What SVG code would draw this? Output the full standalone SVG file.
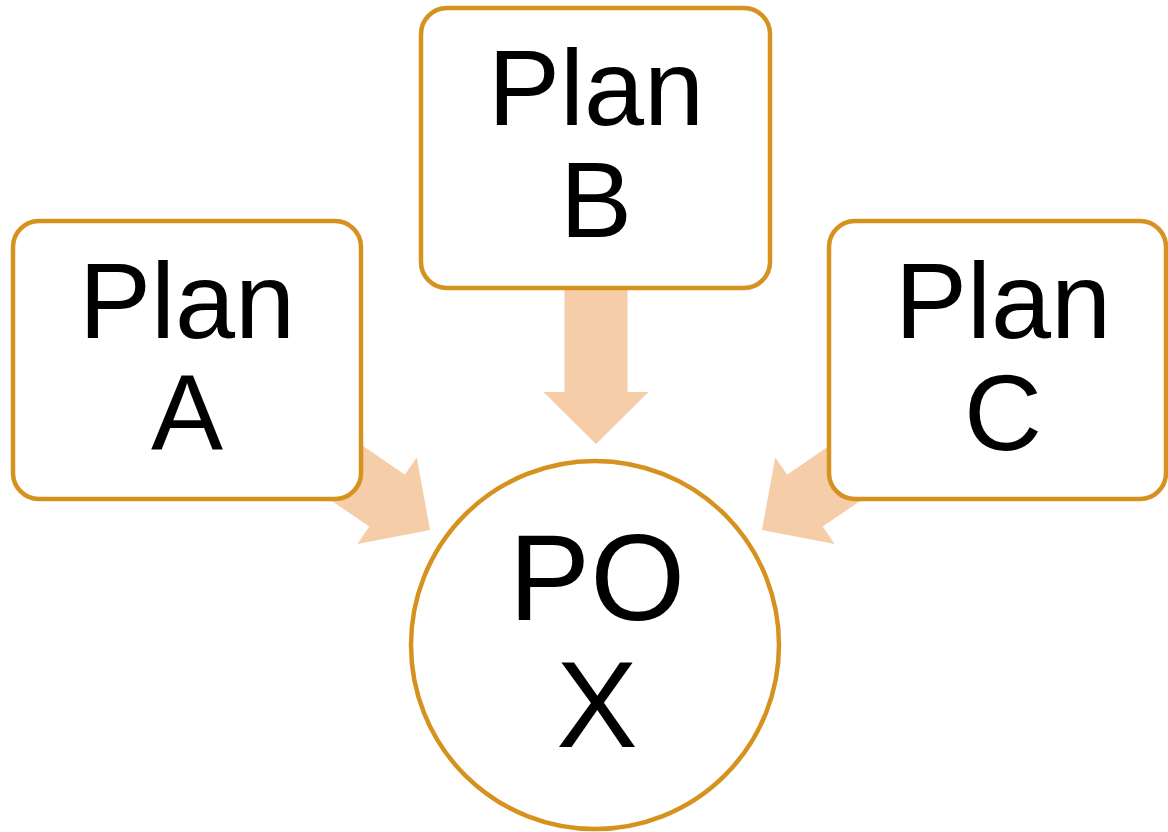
<svg xmlns="http://www.w3.org/2000/svg" width="1168" height="832" viewBox="0 0 1168 832">
<defs>
<style>
.box{fill:#fff;stroke:#D6921E;stroke-width:4.5}
.arr{fill:#F5CDA9}
.t{font-family:"Liberation Sans",Arial,sans-serif;font-size:108px;fill:#000;text-anchor:middle}
.big{font-size:122px}
</style>
<path id="arrow" d="M-156,-31.5 L-52,-31.5 L-52,-52.5 L0,0 L-52,52.5 L-52,31.5 L-156,31.5 Z"/>
</defs>
<rect width="1168" height="832" fill="#fff"/>
<g id="connectors">
<use href="#arrow" class="arr" transform="translate(430,530) rotate(34.4)"/>
<use href="#arrow" class="arr" transform="translate(596,444) rotate(90)"/>
<use href="#arrow" class="arr" transform="translate(762,530) rotate(145.6)"/>
</g>
<g id="planA">
<rect class="box" x="13" y="221" width="348" height="278" rx="26"/>
<text class="t" x="187" y="338">Plan</text>
<text class="t" x="187" y="450">A</text>
</g>
<g id="planB">
<rect class="box" x="421" y="8" width="349" height="280" rx="26"/>
<text class="t" x="596" y="125">Plan</text>
<text class="t" x="596" y="237">B</text>
</g>
<g id="planC">
<rect class="box" x="829" y="221" width="337" height="278" rx="26"/>
<text class="t" x="1003" y="338">Plan</text>
<text class="t" x="1003" y="450">C</text>
</g>
<g id="pox">
<circle class="box" cx="595" cy="645" r="184"/>
<text class="t big" x="597" y="620">PO</text>
<text class="t big" x="597" y="747">X</text>
</g>
</svg>
